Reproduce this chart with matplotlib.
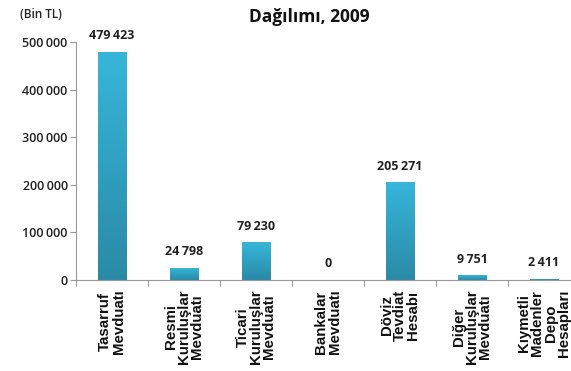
import numpy as np
import matplotlib
matplotlib.use("Agg")
import matplotlib.pyplot as plt
from matplotlib.colors import LinearSegmentedColormap

plt.rcParams['font.family'] = ['Open Sans', 'DejaVu Sans']

kategoriler = ['Tasarruf\nMevduatı', 'Resmi\nKuruluşlar\nMevduatı', 'Ticari\nKuruluşlar\nMevduatı',
               'Bankalar\nMevduatı', 'Döviz\nTevdiat\nHesabı', 'Diğer\nKuruluşlar\nMevduatı',
               'Kıymetli\nMadenler\nDepo\nHesapları']
degerler = [479423, 24798, 79230, 0, 205271, 9751, 2411]
y_ticks = [0, 100000, 200000, 300000, 400000, 500000]

def binlik(v):
    return f"{v:,}".replace(",", "\u2009")

fig = plt.figure(figsize=(5.71, 3.71), dpi=100, facecolor='white')
ax = fig.add_axes([0.1331, 0.2453, 0.8827, 0.6415])

# her sütun için yukarıdan aşağıya koyulaşan renk geçişi
cmap = LinearSegmentedColormap.from_list('mavi', ['#2a8aa6', '#37b6da'])
grad = np.linspace(0, 1, 256).reshape(-1, 1)
x = np.arange(len(degerler))
genislik = 0.4
bars = ax.bar(x, degerler, width=genislik, color='none', edgecolor='none')
for b, v in zip(bars, degerler):
    if v <= 0:
        continue
    x0 = b.get_x()
    im = ax.imshow(grad, cmap=cmap, aspect='auto', origin='lower',
                   extent=[x0, x0 + genislik, 0, v], zorder=2)
    im.set_clip_path(b)

for xi, v in zip(x, degerler):
    ax.annotate(binlik(v), (xi, v), xytext=(0, 7), textcoords='offset points',
                ha='center', va='bottom', fontsize=9, fontweight='bold', color='#222222')

ax.set_xlim(-0.5, len(degerler) - 0.5)
ax.set_ylim(0, 500000)
ax.set_yticks(y_ticks)
ax.set_yticklabels([binlik(t) for t in y_ticks], fontsize=9, fontweight='semibold', color='#222222')

# kategori sınırlarında küçük çentikler
ax.set_xticks(np.arange(-0.5, len(degerler) + 0.5, 1))
ax.set_xticklabels([])
ax.tick_params(axis='x', length=4, color='#999999', width=0.8)
ax.tick_params(axis='y', length=4, color='#999999', width=0.8, pad=2)
for xi, k in zip(x, kategoriler):
    ax.text(xi, -0.04, k, transform=ax.get_xaxis_transform(), rotation=90,
            ha='center', va='top', multialignment='center', linespacing=0.95,
            fontsize=10.8, fontweight='bold', family=['Liberation Sans', 'DejaVu Sans'],
            color='#111111')

for s in ['top', 'right']:
    ax.spines[s].set_visible(False)
for s in ['left', 'bottom']:
    ax.spines[s].set_color('#999999')
    ax.spines[s].set_linewidth(0.8)

fig.text(0.541, 0.955, 'Dağılımı, 2009', ha='center', va='center',
         fontsize=12.5, fontweight='bold', color='#111111')
fig.text(0.035, 0.96, '(Bin TL)', ha='left', va='center',
         fontsize=8.5, fontweight='semibold', color='#222222')

plt.savefig('out.png', dpi=100)
